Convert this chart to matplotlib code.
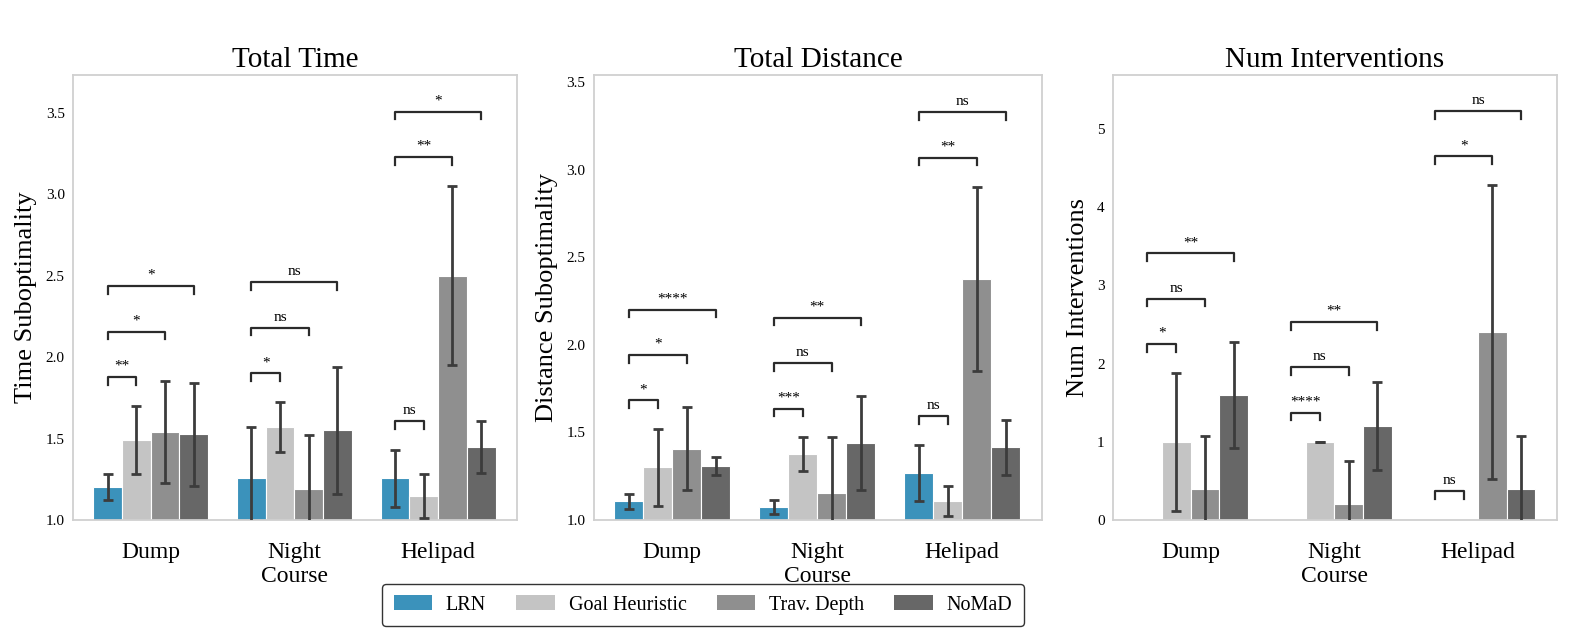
import numpy as np
import matplotlib.pyplot as plt
from matplotlib.patches import Patch

plt.rcParams['font.family'] = ['Liberation Serif', 'DejaVu Serif']

groups = ["Dump", "Night\nCourse", "Helipad"]
methods = ["LRN", "Goal Heuristic", "Trav. Depth", "NoMaD"]
colors = ["#3b92bb", "#c4c4c4", "#8f8f8f", "#676767"]

# rows = groups, cols = methods
time_mean = [[1.20, 1.49, 1.54, 1.525], [1.255, 1.57, 1.19, 1.55], [1.255, 1.15, 2.50, 1.45]]
time_err = [[0.08, 0.21, 0.31, 0.315], [0.315, 0.153, 0.33, 0.39], [0.175, 0.135, 0.55, 0.16]]
time_sig = [["**", "*", "*"], ["*", "ns", "ns"], ["ns", "**", "*"]]

dist_mean = [[1.108, 1.30, 1.408, 1.308], [1.076, 1.374, 1.155, 1.438], [1.266, 1.11, 2.378, 1.416]]
dist_err = [[0.043, 0.218, 0.236, 0.05], [0.04, 0.097, 0.319, 0.268], [0.16, 0.085, 0.525, 0.157]]
dist_sig = [["*", "*", "****"], ["***", "ns", "**"], ["ns", "**", "ns"]]

int_mean = [[0, 1.0, 0.4, 1.6], [0, 1.0, 0.2, 1.2], [0, 0, 2.4, 0.4]]
int_err = [[0, 0.88, 0.68, 0.68], [0, 0, 0.554, 0.56], [0, 0, 1.88, 0.68]]
int_sig = [["*", "ns", "**"], ["****", "ns", "**"], ["ns", "*", "ns"]]

panels = [
    ("Total Time", "Time Suboptimality", time_mean, time_err, time_sig, (1.0, 3.73), np.arange(1.0, 3.51, 0.5), "{:.1f}"),
    ("Total Distance", "Distance Suboptimality", dist_mean, dist_err, dist_sig, (1.0, 3.54), np.arange(1.0, 3.51, 0.5), "{:.1f}"),
    ("Num Interventions", "Num Interventions", int_mean, int_err, int_sig, (0, 5.69), np.arange(0, 6), "{:.0f}"),
]
axes_pos = [[0.0463, 0.1759, 0.2814, 0.7052],
            [0.3764, 0.1759, 0.2839, 0.7052],
            [0.7053, 0.1759, 0.2814, 0.7052]]

fig = plt.figure(figsize=(15.78, 6.31), dpi=100)
width = 0.2
offs = (np.arange(4) - 1.5) * width
x = np.arange(len(groups))

for (title, ylabel, mean, err, sig, ylim, yticks, fmt), pos in zip(panels, axes_pos):
    ax = fig.add_axes(pos)
    mean = np.array(mean)
    err = np.array(err)
    for j in range(4):
        ax.bar(x + offs[j], mean[:, j], width, color=colors[j], edgecolor="white", linewidth=0.8, zorder=2)
        keep = (mean[:, j] != 0) | (err[:, j] != 0)
        ax.errorbar((x + offs[j])[keep], mean[keep, j], yerr=err[keep, j], fmt="none", ecolor="#3c3c3c",
                    elinewidth=2, capsize=3.5, capthick=2, zorder=3)
    ax.set_ylim(*ylim)
    ax.set_xlim(-0.54, 2.55)
    span = ylim[1] - ylim[0]
    base = 0.065 * span
    step = 0.102 * span
    tick = 0.017 * span
    tops = mean + err
    for g in range(len(groups)):
        prev = None
        for k in range(3):
            j = k + 1
            level = tops[g, :j + 1].max() + base
            if prev is not None:
                level = max(level, prev + step)
            prev = level
            x0 = x[g] + offs[0]
            x1 = x[g] + offs[j]
            ax.plot([x0, x0, x1, x1], [level - tick, level, level, level - tick],
                    color="#2b2b2b", lw=1.6, zorder=4, clip_on=False)
            ax.annotate(sig[g][k], ((x0 + x1) / 2, level), xytext=(0, 3), textcoords="offset points",
                        ha="center", va="bottom", fontsize=11)
    ax.set_yticks(yticks)
    ax.set_yticklabels([fmt.format(v) for v in yticks], fontsize=11)
    ax.set_xticks(x)
    ax.set_xticklabels(groups, fontsize=17, linespacing=1.15)
    ax.tick_params(length=0, pad=6)
    ax.tick_params(axis="x", pad=16)
    ax.set_title(title, fontsize=21, pad=6)
    ax.set_ylabel(ylabel, fontsize=19, labelpad=6)
    for s in ax.spines.values():
        s.set_color("#d0d0d0")
        s.set_linewidth(1.3)

handles = [Patch(facecolor=c, edgecolor="none") for c in colors]
leg = fig.legend(handles, methods, loc="center", bbox_to_anchor=(0.4455, 0.041), ncol=4,
                 fontsize=14.5, handlelength=1.9, handleheight=0.75, columnspacing=1.5,
                 handletextpad=0.7, frameon=True, fancybox=True, borderpad=0.55)
leg.get_frame().set_edgecolor("black")
leg.get_frame().set_linewidth(1.0)

fig.savefig("out.png", dpi=100)
